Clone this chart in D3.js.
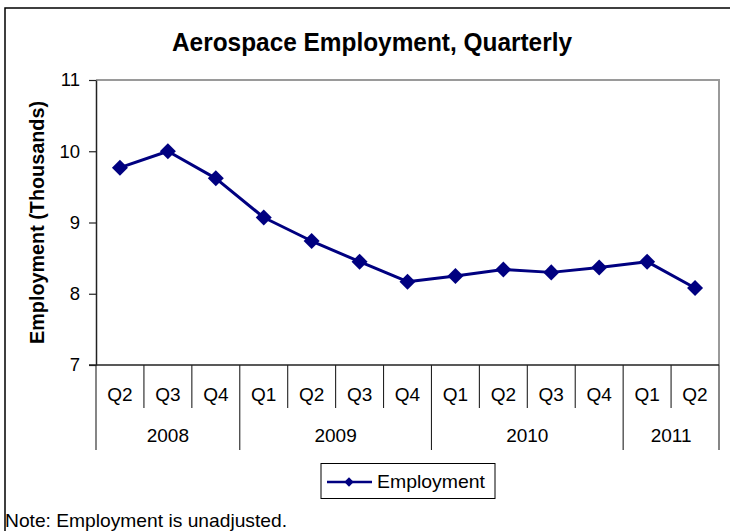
<!DOCTYPE html>
<html>
<head>
<meta charset="utf-8">
<script src="https://cdn.jsdelivr.net/npm/d3@7"></script>
<style>
  html, body { margin: 0; padding: 0; background: #fff; }
  svg { display: block; font-family: "Liberation Sans", Arial, Helvetica, sans-serif; }
</style>
</head>
<body>
<svg id="chart" width="730" height="531"></svg>
<script>
// Quarterly aerospace employment, thousands
const quarters = ["Q2", "Q3", "Q4", "Q1", "Q2", "Q3", "Q4", "Q1", "Q2", "Q3", "Q4", "Q1", "Q2"];
const years    = ["2008", "2008", "2008", "2009", "2009", "2009", "2009", "2010", "2010", "2010", "2010", "2011", "2011"];
const employment = [9.77, 10.0, 9.62, 9.07, 8.74, 8.45, 8.17, 8.25, 8.34, 8.30, 8.37, 8.45, 8.08];
const yTicks = [7, 8, 9, 10, 11];

const title = "Aerospace Employment, Quarterly";
const yTitle = "Employment (Thousands)";
const seriesName = "Employment";
const note = "Note: Employment is unadjusted.";

const navy = "#000080";
const svg = d3.select("#chart");

const plot = { left: 96, right: 719, top: 80, bottom: 365 };

const x = d3.scaleBand()
  .domain(d3.range(quarters.length))
  .range([plot.left, plot.right])
  .padding(0);
const y = d3.scaleLinear()
  .domain([d3.min(yTicks), d3.max(yTicks)])
  .range([plot.bottom, plot.top]);

// Outer chart frame (runs past the right and bottom edges)
svg.append("rect")
  .attr("x", 5).attr("y", 8)
  .attr("width", 760).attr("height", 560)
  .attr("fill", "#fff")
  .attr("stroke", "#000").attr("stroke-width", 1.5);

// Title
svg.append("text")
  .attr("x", 372).attr("y", 51)
  .attr("text-anchor", "middle")
  .attr("font-size", 25.5).attr("font-weight", "bold")
  .attr("textLength", 400).attr("lengthAdjust", "spacingAndGlyphs")
  .text(title);

// Plot area border (top and right in grey)
svg.append("path")
  .attr("d", `M${plot.left},${plot.top}H${plot.right}V${plot.bottom}`)
  .attr("fill", "none")
  .attr("stroke", "#9a9a9a").attr("stroke-width", 2);

// Y axis
const yAxis = svg.append("g")
  .attr("transform", `translate(${plot.left},0)`)
  .call(d3.axisLeft(y).tickValues(yTicks).tickFormat(d3.format("d"))
    .tickSize(7).tickSizeOuter(0).tickPadding(9));
yAxis.select(".domain").attr("stroke", "#222").attr("stroke-width", 1.5);
yAxis.selectAll(".tick line").attr("stroke", "#222").attr("stroke-width", 1.2);
yAxis.selectAll(".tick text")
  .attr("font-size", 18.5).attr("fill", "#000")
  .attr("font-family", "Liberation Sans, Arial, sans-serif");

// Y axis title
svg.append("text")
  .attr("transform", `translate(44,${(plot.top + plot.bottom) / 2}) rotate(-90)`)
  .attr("text-anchor", "middle")
  .attr("font-size", 19.5).attr("font-weight", "bold")
  .attr("textLength", 243).attr("lengthAdjust", "spacingAndGlyphs")
  .text(yTitle);

// Category axis: baseline, quarter dividers and year dividers
const bw = x.bandwidth();
const bounds = d3.range(quarters.length + 1).map(i => i < quarters.length ? x(i) : x(quarters.length - 1) + bw);
const yearStart = d3.range(quarters.length + 1).filter(i => i === 0 || i === quarters.length || years[i] !== years[i - 1]);

const xAxis = svg.append("g");
xAxis.append("line")
  .attr("x1", plot.left - 7).attr("x2", plot.right)
  .attr("y1", plot.bottom).attr("y2", plot.bottom)
  .attr("stroke", "#222").attr("stroke-width", 1.5);

xAxis.selectAll("line.div")
  .data(d3.range(quarters.length + 1))
  .join("line")
  .attr("class", "div")
  .attr("x1", i => bounds[i]).attr("x2", i => bounds[i])
  .attr("y1", plot.bottom)
  .attr("y2", i => yearStart.includes(i) ? 450 : 408)
  .attr("stroke", "#222").attr("stroke-width", 1.1);

xAxis.selectAll("text.q")
  .data(quarters)
  .join("text")
  .attr("class", "q")
  .attr("x", (d, i) => x(i) + bw / 2)
  .attr("y", 401)
  .attr("text-anchor", "middle")
  .attr("font-size", 19)
  .text(d => d);

const yearGroups = d3.range(yearStart.length - 1).map(k => ({
  year: years[yearStart[k]],
  x0: bounds[yearStart[k]],
  x1: bounds[yearStart[k + 1]]
}));
xAxis.selectAll("text.yr")
  .data(yearGroups)
  .join("text")
  .attr("class", "yr")
  .attr("x", d => (d.x0 + d.x1) / 2)
  .attr("y", 442)
  .attr("text-anchor", "middle")
  .attr("font-size", 19)
  .text(d => d.year);

// Series line and diamond markers
const line = d3.line()
  .x((d, i) => x(i) + bw / 2)
  .y(d => y(d));
svg.append("path")
  .datum(employment)
  .attr("d", line)
  .attr("fill", "none")
  .attr("stroke", navy).attr("stroke-width", 3)
  .attr("stroke-linejoin", "round");

svg.selectAll("path.mark")
  .data(employment)
  .join("path")
  .attr("class", "mark")
  .attr("transform", (d, i) => `translate(${x(i) + bw / 2},${y(d)}) rotate(45)`)
  .attr("d", d3.symbol().type(d3.symbolSquare).size(128))
  .attr("fill", navy);

// Legend
const lg = svg.append("g");
lg.append("rect")
  .attr("x", 321).attr("y", 463.5)
  .attr("width", 174).attr("height", 35)
  .attr("fill", "#fff").attr("stroke", "#000").attr("stroke-width", 1);
lg.append("line")
  .attr("x1", 327).attr("x2", 372)
  .attr("y1", 482).attr("y2", 482)
  .attr("stroke", navy).attr("stroke-width", 2.5);
lg.append("path")
  .attr("transform", "translate(349,482) rotate(45)")
  .attr("d", d3.symbol().type(d3.symbolSquare).size(44))
  .attr("fill", navy);
lg.append("text")
  .attr("x", 377).attr("y", 488)
  .attr("font-size", 19)
  .attr("textLength", 108).attr("lengthAdjust", "spacingAndGlyphs")
  .text(seriesName);

// Footnote
svg.append("text")
  .attr("x", 5).attr("y", 527)
  .attr("font-size", 19)
  .attr("textLength", 282).attr("lengthAdjust", "spacingAndGlyphs")
  .text(note);
</script>
</body>
</html>
